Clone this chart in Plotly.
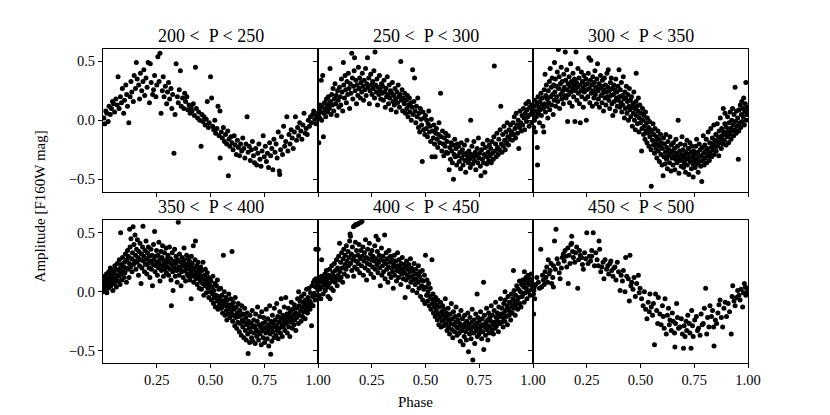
"""
Phase-folded light curves of the variables, split into six period bins.
Each panel shows F160W amplitude against pulsation phase.
"""

import plotly.graph_objects as go
from plotly.subplots import make_subplots

# panel titles (period bins, days)
bins = ["200 <\u00a0 P < 250", "250 <\u00a0 P < 300", "300 <\u00a0 P < 350",
        "350 <\u00a0 P < 400", "400 <\u00a0 P < 450", "450 <\u00a0 P < 500"]

# (phase, amplitude), one list per period bin
p200_250 = [
    (.004,.02),(.009,-.03),(.013,.08),(.018,.06),(.024,-.01),(.028,.12),(.034,.05),(.039,.1),(.044,.16),(.049,.14),
    (.054,.07),(.06,.18),(.066,.13),(.07,.37),(.075,.1),(.081,.2),(.086,.15),(.09,.27),(.096,.06),(.1,.17),
    (.106,.3),(.11,.22),(.114,.12),(.12,-.02),(.126,.2),(.13,.33),(.134,.24),(.141,.16),(.145,.38),(.151,.27),
    (.155,.49),(.159,.35),(.166,.3),(.17,.18),(.174,.4),(.18,.25),(.186,.33),(.19,.43),(.194,.21),(.2,.36),
    (.205,.28),(.21,.49),(.216,.15),(.22,.48),(.224,.32),(.231,.22),(.235,.26),(.24,.38),(.246,.2),(.25,.3),
    (.255,.54),(.261,.33),(.265,.57),(.27,.06),(.276,.25),(.28,.37),(.284,.2),(.29,.29),(.296,.14),(.3,.24),
    (.305,.32),(.31,.18),(.316,.27),(.32,.1),(.324,.22),(.33,-.28),(.335,.05),(.34,.48),(.346,.2),(.35,.15),
    (.355,.26),(.36,.42),(.364,.12),(.37,.19),(.376,.1),(.38,.23),(.384,.16),(.39,.2),(.394,.09),(.4,.13),
    (.405,.06),(.41,.11),(.414,.08),(.42,.14),(.425,.04),(.43,.45),(.434,.1),(.44,.02),(.445,.07),(.45,.0),
    (.456,-.22),(.46,.05),(.464,-.01),(.47,.03),(.475,-.04),(.48,.01),(.485,.16),(.49,-.06),(.494,-.02),(.5,.37),
    (.505,.19),(.51,-.05),(.515,-.08),(.52,.0),(.524,-.11),(.53,-.07),(.535,.12),(.54,-.13),(.544,.08),(.545,-.32),
    (.55,-.1),(.555,-.15),(.56,-.06),(.565,-.18),(.57,-.12),(.575,-.2),(.58,-.09),(.583,-.47),(.586,-.16),(.59,-.22),
    (.595,-.14),(.6,-.19),(.605,-.25),(.61,-.13),(.615,-.21),(.62,-.29),(.625,-.17),(.63,-.23),(.635,-.3),(.64,-.2),
    (.645,-.26),(.65,-.15),(.655,-.24),(.66,-.32),(.665,-.2),(.67,.03),(.675,-.27),(.68,-.22),(.685,-.34),(.69,-.25),
    (.695,-.18),(.7,-.3),(.705,-.36),(.71,-.24),(.715,-.38),(.72,-.28),(.725,-.2),(.73,-.33),(.735,-.39),(.74,-.26),
    (.745,-.13),(.75,-.31),(.755,-.22),(.76,-.35),(.765,-.28),(.77,-.4),(.775,-.19),(.78,-.3),(.785,-.24),(.79,-.42),
    (.795,-.16),(.8,-.27),(.805,-.2),(.81,-.32),(.815,-.1),(.82,-.43),(.822,-.46),(.826,-.25),(.83,-.14),(.835,-.29),
    (.84,-.05),(.845,-.22),(.85,-.18),(.855,.03),(.86,-.26),(.865,-.12),(.87,-.2),(.875,-.08),(.88,-.15),(.885,-.24),
    (.89,-.1),(.895,.03),(.9,-.17),(.905,-.06),(.91,-.13),(.915,-.02),(.92,-.09),(.925,-.16),(.93,-.04),(.935,.06),
    (.94,-.11),(.945,-.07),(.95,-.12),(.955,.0),(.96,-.05),(.965,.03),(.97,-.02),(.975,.05),(.98,.08),(.985,.01),
    (.99,-.03),(.995,.04),(.999,.06),
]

p250_300 = [
    (.002,.05),(.004,-.19),(.006,.1),(.008,.02),(.01,.13),(.012,.07),(.015,.34),(.017,.0),(.02,.11),(.022,.38),
    (.025,-.14),(.027,.06),(.03,.15),(.033,.09),(.036,.03),(.039,.18),(.042,.12),(.045,.07),(.048,.2),(.05,.14),
    (.053,.1),(.056,.44),(.058,.16),(.061,.05),(.064,.22),(.067,.13),(.07,.27),(.073,.08),(.076,.18),(.079,.31),
    (.082,.14),(.085,.21),(.088,.04),(.091,.25),(.094,.17),(.097,.11),(.1,.28),(.103,.2),(.106,.13),(.109,.35),
    (.112,.24),(.115,.08),(.118,.49),(.12,.3),(.123,.19),(.126,.38),(.129,.26),(.132,.15),(.135,.33),(.138,.22),
    (.141,.4),(.144,.27),(.147,.1),(.15,.31),(.153,.23),(.157,.57),(.16,.36),(.162,.18),(.165,.29),(.168,.42),
    (.17,.53),(.173,.25),(.176,.34),(.179,.14),(.182,.3),(.185,.21),(.188,.45),(.191,.27),(.194,.36),(.197,.19),
    (.2,.32),(.203,.24),(.206,.4),(.209,.29),(.212,.17),(.215,.34),(.218,.26),(.221,.44),(.224,.21),(.227,.31),
    (.23,.53),(.233,.28),(.236,.36),(.239,.14),(.242,.25),(.245,.39),(.248,.3),(.251,.22),(.254,.33),(.257,.27),
    (.26,.42),(.263,.19),(.265,.58),(.268,.3),(.271,.24),(.274,.35),(.277,.13),(.28,.28),(.283,.22),(.286,.38),
    (.289,.26),(.292,.18),(.295,.31),(.298,.23),(.301,.29),(.304,.17),(.307,.34),(.31,.24),(.313,.11),(.316,.27),
    (.319,.2),(.322,.37),(.325,.22),(.328,.14),(.331,.3),(.334,.19),(.337,.25),(.34,.09),(.343,.23),(.346,.32),
    (.349,.16),(.352,.21),(.355,.13),(.358,.27),(.361,.18),(.364,.07),(.367,.24),(.37,.15),(.373,.3),(.376,.2),
    (.379,.11),(.382,.22),(.385,.5),(.388,.17),(.391,.26),(.394,.08),(.397,.19),(.401,.14),(.404,.23),(.407,.06),
    (.41,.17),(.413,.1),(.416,.21),(.419,.03),(.422,.13),(.425,.19),(.428,.07),(.431,.15),(.434,.0),(.437,.11),
    (.44,.43),(.443,.05),(.446,.16),(.449,.36),(.452,.08),(.455,-.02),(.458,.12),(.461,.03),(.464,.19),(.467,-.06),
    (.47,.06),(.473,-.1),(.476,.1),(.479,.01),(.482,-.04),(.485,-.35),(.488,.07),(.491,-.08),(.494,.02),(.497,-.12),
    (.5,.04),(.503,-.07),(.506,.0),(.509,-.14),(.512,-.03),(.515,.08),(.518,-.1),(.521,-.05),(.524,-.18),(.527,.01),
    (.53,-.31),(.533,-.09),(.536,-.15),(.539,-.04),(.542,-.2),(.545,-.31),(.548,-.11),(.551,-.07),(.554,-.16),(.557,-.23),
    (.56,-.12),(.563,-.02),(.566,-.19),(.57,.23),(.573,-.14),(.576,-.26),(.579,-.09),(.582,-.2),(.585,-.3),(.588,-.15),
    (.591,-.22),(.594,-.11),(.597,-.27),(.6,-.18),(.603,-.28),(.606,-.13),(.61,-.42),(.613,-.23),(.616,-.33),(.619,-.19),
    (.622,-.26),(.625,-.36),(.628,-.21),(.63,-.5),(.633,-.29),(.636,-.16),(.639,-.31),(.642,-.24),(.645,-.38),(.648,-.2),
    (.651,-.3),(.654,-.22),(.657,-.35),(.66,-.27),(.663,-.41),(.666,-.19),(.669,-.32),(.672,-.25),(.675,-.38),(.678,-.29),
    (.681,-.21),(.684,-.34),(.687,-.44),(.69,-.28),(.693,-.17),(.696,-.31),(.699,-.36),(.702,-.26),(.705,-.33),(.708,-.4),
    (.71,.0),(.713,-.29),(.716,-.22),(.719,-.37),(.722,-.31),(.725,-.18),(.728,-.34),(.731,-.27),(.734,-.42),(.737,-.3),
    (.74,-.24),(.743,-.36),(.746,-.15),(.749,-.32),(.752,-.28),(.755,-.39),(.758,-.47),(.761,-.25),(.764,-.33),(.767,-.2),
    (.77,-.36),(.773,-.29),(.776,-.44),(.779,-.23),(.782,-.31),(.785,-.37),(.788,-.17),(.791,-.27),(.794,-.34),(.797,-.21),
    (.8,-.3),(.803,-.24),(.806,-.36),(.809,-.18),(.812,-.28),(.815,-.33),(.818,-.14),(.82,.46),(.823,-.26),(.826,-.2),
    (.829,-.31),(.832,-.11),(.835,-.23),(.838,-.29),(.841,-.16),(.844,-.25),(.847,-.08),(.85,.12),(.853,-.2),(.856,-.27),
    (.859,-.12),(.862,-.22),(.865,-.05),(.868,-.17),(.871,-.25),(.874,-.1),(.877,-.19),(.88,-.02),(.883,-.14),(.886,-.21),
    (.889,-.08),(.892,-.16),(.895,-.04),(.898,-.12),(.901,-.1),(.904,-.17),(.907,-.02),(.91,-.12),(.913,.03),(.916,-.07),
    (.919,-.15),(.922,.06),(.925,-.04),(.928,-.11),(.931,.0),(.934,-.24),(.937,-.06),(.94,.08),(.943,-.02),(.946,-.09),
    (.949,.04),(.952,-.04),(.955,.1),(.958,.02),(.961,-.08),(.964,.06),(.967,.14),(.97,-.01),(.973,.09),(.976,.03),
    (.979,.16),(.982,-.05),(.985,.11),(.988,.05),(.991,.13),(.994,-.02),(.997,.08),(.999,.12),
]

p300_350 = [
    (.001,.05),(.003,-.06),(.005,.12),(.007,.0),(.009,.17),(.011,-.1),(.013,.08),(.016,.03),(.018,.14),(.02,-.23),
    (.021,-.38),(.023,.2),(.025,.06),(.027,.11),(.03,-.02),(.032,.16),(.034,.09),(.037,.23),(.039,.04),(.041,.13),
    (.044,.19),(.046,-.05),(.048,.1),(.05,-.1),(.052,.26),(.054,.14),(.056,.39),(.058,.07),(.06,.21),(.062,.3),
    (.065,.12),(.067,.18),(.069,.02),(.071,.25),(.073,.15),(.076,.33),(.078,.09),(.08,.44),(.082,.2),(.085,.28),
    (.087,.13),(.089,.36),(.091,.22),(.094,.05),(.096,.3),(.098,.17),(.1,.49),(.102,.24),(.104,.35),(.106,.12),
    (.108,.29),(.11,.2),(.113,.41),(.115,.16),(.118,.6),(.12,.27),(.122,.37),(.124,.1),(.127,.31),(.129,.22),
    (.131,.45),(.134,.18),(.136,.33),(.138,.25),(.141,.14),(.143,.39),(.145,.28),(.148,.21),(.15,.58),(.152,.34),
    (.154,.19),(.157,.43),(.159,.26),(.161,-.01),(.163,.31),(.166,.22),(.168,.37),(.17,.15),(.172,.29),(.175,.48),
    (.177,.24),(.179,.33),(.182,.12),(.184,.27),(.186,.4),(.189,.2),(.191,.3),(.193,.35),(.195,-.01),(.197,.25),
    (.2,.58),(.202,.32),(.204,.17),(.207,.28),(.209,.44),(.211,.23),(.214,.36),(.216,.14),(.218,.3),(.22,-.02),
    (.223,.25),(.225,.41),(.227,.2),(.23,.33),(.232,.27),(.234,.11),(.237,.38),(.239,.24),(.241,.3),(.244,.18),
    (.246,.35),(.248,.0),(.25,.26),(.253,.31),(.255,.2),(.257,.4),(.26,.53),(.262,.27),(.264,.15),(.267,.34),
    (.269,.51),(.271,.23),(.274,.3),(.276,.12),(.278,.37),(.281,.25),(.283,.19),(.285,.32),(.288,.42),(.29,.22),
    (.292,.28),(.295,.14),(.297,.35),(.3,.48),(.302,.25),(.304,.18),(.307,.31),(.309,.11),(.311,.27),(.314,.38),
    (.316,.21),(.318,.29),(.321,.15),(.323,.34),(.325,.23),(.328,.08),(.33,.26),(.332,.36),(.335,.19),(.337,.3),
    (.339,.13),(.342,.24),(.344,.4),(.346,.2),(.349,.28),(.35,.43),(.353,.17),(.355,.25),(.357,.1),(.36,.32),
    (.362,.21),(.364,.36),(.367,.14),(.369,.27),(.371,.04),(.374,.22),(.376,.3),(.378,.16),(.381,.26),(.383,.08),
    (.385,.35),(.388,.19),(.39,.24),(.392,.12),(.395,.29),(.397,.17),(.4,.43),(.402,.2),(.404,.11),(.406,.26),
    (.409,.15),(.411,.32),(.413,.07),(.416,.21),(.418,.13),(.42,.37),(.423,.18),(.425,.02),(.427,.24),(.43,.1),
    (.432,.19),(.434,.29),(.437,.06),(.439,.16),(.441,.22),(.444,.0),(.446,.12),(.448,.27),(.451,.09),(.453,.17),
    (.455,.03),(.458,.2),(.46,.11),(.462,-.05),(.465,.14),(.467,.06),(.469,.24),(.472,.0),(.474,.1),(.476,-.08),
    (.479,.16),(.48,.4),(.481,.04),(.483,.12),(.486,-.03),(.488,.08),(.49,.19),(.493,-.1),(.495,.02),(.497,.13),
    (.5,-.02),(.502,.06),(.505,-.26),(.507,-.07),(.509,.1),(.511,.0),(.514,-.12),(.516,.04),(.518,-.05),(.521,-.16),
    (.523,.07),(.525,-.09),(.528,-.02),(.53,-.19),(.532,.02),(.535,-.11),(.537,-.06),(.539,-.22),(.542,-.01),(.544,-.14),
    (.546,-.08),(.549,-.25),(.55,-.56),(.553,-.1),(.555,-.17),(.558,-.03),(.56,-.21),(.562,-.12),(.565,-.28),(.567,-.07),
    (.569,-.18),(.572,-.24),(.574,-.14),(.576,-.32),(.579,-.2),(.581,-.09),(.583,-.26),(.586,-.16),(.588,-.35),(.59,-.22),
    (.593,-.12),(.595,-.29),(.597,-.19),(.6,-.38),(.602,-.24),(.605,-.47),(.607,-.15),(.609,-.31),(.611,-.2),(.614,-.37),
    (.616,-.27),(.618,-.12),(.621,-.33),(.623,-.23),(.625,-.41),(.628,-.18),(.63,-.3),(.632,-.25),(.635,-.36),(.637,-.14),
    (.639,-.28),(.642,-.43),(.644,-.21),(.646,-.32),(.649,-.26),(.651,-.38),(.653,-.19),(.656,-.3),(.658,-.24),(.66,-.42),
    (.663,-.33),(.665,-.16),(.667,-.28),(.67,-.36),(.672,-.22),(.675,.0),(.677,-.31),(.679,-.45),(.682,-.26),(.684,-.34),
    (.686,-.2),(.689,-.39),(.691,-.29),(.693,-.14),(.696,-.33),(.698,-.25),(.7,-.4),(.702,-.3),(.704,-.36),(.707,-.21),
    (.709,-.44),(.711,-.27),(.714,-.33),(.716,-.17),(.718,-.38),(.721,-.29),(.723,-.24),(.725,-.46),(.728,-.32),(.73,-.19),
    (.732,-.35),(.735,-.27),(.737,-.41),(.739,-.22),(.742,-.31),(.744,-.37),(.745,-.48),(.747,-.26),(.75,-.34),(.752,-.29),
    (.754,-.4),(.757,-.22),(.759,-.33),(.761,-.16),(.764,-.37),(.766,-.27),(.768,-.44),(.771,-.31),(.773,-.2),(.775,-.35),
    (.778,-.25),(.78,-.39),(.782,-.3),(.785,-.52),(.787,-.23),(.789,-.34),(.792,-.13),(.794,-.28),(.796,-.38),(.799,-.21),
    (.801,-.32),(.803,-.26),(.806,-.16),(.808,-.36),(.81,-.24),(.813,-.3),(.815,-.1),(.817,-.27),(.82,-.34),(.822,-.19),
    (.824,-.28),(.827,-.07),(.829,-.23),(.831,-.31),(.834,-.15),(.836,-.25),(.838,-.2),(.841,-.04),(.843,-.29),(.845,-.17),
    (.848,-.22),(.85,-.12),(.852,-.26),(.855,-.18),(.857,-.03),(.859,-.22),(.862,-.14),(.864,-.3),(.866,-.09),(.869,-.19),
    (.871,.02),(.873,-.16),(.876,-.24),(.878,-.07),(.88,-.13),(.883,-.2),(.885,.1),(.887,-.1),(.89,-.17),(.892,-.03),
    (.893,.06),(.896,-.12),(.898,-.21),(.9,-.06),(.903,-.14),(.905,.03),(.907,-.1),(.91,-.19),(.912,-.02),(.914,-.12),
    (.917,.07),(.919,-.07),(.921,-.16),(.924,.0),(.926,-.09),(.928,.1),(.931,-.04),(.933,-.13),(.935,.05),(.938,-.08),
    (.94,.28),(.942,-.01),(.945,-.11),(.947,.08),(.95,-.05),(.952,.02),(.955,-.33),(.957,-.09),(.959,.09),(.962,-.02),
    (.964,.13),(.966,-.06),(.969,.05),(.971,.16),(.973,-.01),(.976,.1),(.978,.03),(.98,.19),(.983,-.04),(.985,.07),
    (.987,.14),(.99,.32),(.992,.0),(.994,.11),(.997,.05),(.999,.09),
]

p350_400 = [
    (.001,.0),(.003,.08),(.005,.04),(.007,.13),(.009,.02),(.011,.1),(.014,.06),(.016,.15),(.018,-.01),(.02,.09),
    (.023,.12),(.025,.03),(.027,.17),(.03,.07),(.032,.11),(.034,.2),(.037,.05),(.039,.14),(.041,.09),(.044,.18),
    (.046,.01),(.048,.12),(.051,.16),(.053,.07),(.055,.22),(.058,.11),(.06,.19),(.062,.04),(.065,.14),(.067,.24),
    (.069,.09),(.072,.18),(.074,.13),(.076,.27),(.079,.06),(.081,.2),(.082,.5),(.084,.15),(.086,.23),(.088,.1),
    (.091,.29),(.093,.17),(.095,.21),(.098,.12),(.1,.25),(.102,.16),(.104,.32),(.107,.2),(.109,.08),(.111,.27),
    (.114,.35),(.116,.19),(.118,.3),(.121,.12),(.123,.24),(.124,.53),(.126,.38),(.128,.21),(.13,.45),(.133,.28),
    (.135,.17),(.137,.33),(.14,.55),(.142,.23),(.144,.4),(.147,.26),(.149,.48),(.151,.31),(.153,.19),(.156,.36),
    (.158,.25),(.16,.44),(.163,.29),(.165,.14),(.167,.34),(.17,.22),(.172,.41),(.174,.27),(.177,.07),(.179,.32),
    (.181,.2),(.184,.38),(.186,.556),(.188,.26),(.19,.3),(.193,.17),(.195,.35),(.197,.23),(.2,.43),(.202,.28),
    (.204,.15),(.207,.33),(.209,.24),(.211,.38),(.214,.2),(.216,.3),(.218,.12),(.221,.26),(.223,.36),(.225,.19),
    (.228,.31),(.23,.05),(.232,.23),(.235,.4),(.237,.27),(.24,.51),(.242,.17),(.244,.3),(.246,.22),(.249,.35),
    (.251,.25),(.253,.14),(.256,.31),(.258,.2),(.26,.42),(.263,.27),(.265,.09),(.267,.23),(.27,.34),(.272,.18),
    (.274,.29),(.277,.39),(.279,.22),(.281,.13),(.284,.26),(.286,.33),(.288,.19),(.291,.24),(.293,.37),(.295,.16),
    (.298,.28),(.3,.21),(.302,.31),(.305,.14),(.307,.25),(.309,.38),(.312,.19),(.314,.28),(.316,.1),(.318,-.12),
    (.32,.23),(.322,.33),(.324,.17),(.326,.01),(.329,.26),(.331,.2),(.333,.36),(.336,.13),(.338,.24),(.34,.3),
    (.343,.18),(.345,.08),(.347,.27),(.35,.59),(.352,.21),(.354,.14),(.356,.32),(.359,.19),(.361,.25),(.363,.05),
    (.366,.17),(.368,.29),(.37,.22),(.373,.12),(.375,.27),(.377,.37),(.38,.18),(.382,.24),(.384,.09),(.387,.2),
    (.389,.31),(.391,.15),(.394,.23),(.396,.28),(.398,.13),(.4,.19),(.402,.26),(.404,.1),(.406,.21),(.408,.16),
    (.41,-.06),(.411,.3),(.413,.13),(.415,.24),(.417,.18),(.42,.39),(.422,.08),(.424,.2),(.426,.14),(.428,.27),
    (.43,.43),(.432,.11),(.434,.17),(.436,.22),(.438,.06),(.44,.15),(.442,.25),(.444,.12),(.446,.19),(.448,.03),
    (.45,.16),(.452,.09),(.454,.21),(.456,.13),(.458,.02),(.461,.18),(.463,.07),(.465,.25),(.467,.11),(.469,-.03),
    (.472,.14),(.474,.05),(.476,.19),(.478,.1),(.481,-.01),(.483,.08),(.485,.16),(.488,.03),(.49,.12),(.492,-.05),
    (.495,.06),(.497,.1),(.5,.0),(.502,.09),(.504,-.07),(.507,.04),(.509,-.02),(.511,.13),(.514,-.1),(.516,.01),
    (.518,-.05),(.521,.07),(.523,-.13),(.525,-.03),(.528,.05),(.53,-.08),(.532,.1),(.535,-.15),(.537,-.04),(.539,.02),
    (.542,-.11),(.544,-.06),(.547,.03),(.549,-.09),(.551,-.14),(.553,-.03),(.556,-.18),(.558,-.08),(.56,.31),(.562,-.12),
    (.564,.0),(.567,-.2),(.569,-.1),(.571,-.05),(.574,-.16),(.576,-.24),(.578,-.07),(.58,-.13),(.583,-.19),(.585,-.02),
    (.587,-.11),(.59,-.22),(.592,-.15),(.594,-.06),(.597,-.18),(.6,.34),(.601,-.12),(.603,-.25),(.606,-.09),(.608,-.2),
    (.61,-.15),(.613,-.29),(.615,-.05),(.617,-.22),(.62,-.13),(.622,-.31),(.624,-.18),(.627,-.26),(.629,-.1),(.631,-.21),
    (.634,-.34),(.636,-.16),(.638,-.27),(.641,-.2),(.643,-.37),(.645,-.12),(.648,-.24),(.65,-.3),(.652,-.19),(.655,-.39),
    (.657,-.26),(.659,-.14),(.662,-.33),(.664,-.22),(.666,-.41),(.669,-.28),(.671,-.18),(.673,-.36),(.675,-.525),(.677,-.25),
    (.68,-.31),(.682,-.43),(.684,-.2),(.687,-.34),(.689,-.27),(.691,-.39),(.694,-.16),(.696,-.3),(.698,-.42),(.701,-.24),
    (.703,-.35),(.705,-.29),(.708,-.44),(.71,-.19),(.712,-.32),(.715,-.38),(.717,-.25),(.719,-.13),(.722,-.34),(.724,-.41),
    (.726,-.28),(.729,-.21),(.731,-.36),(.733,-.3),(.736,-.45),(.738,-.17),(.74,-.33),(.743,-.27),(.745,-.39),(.747,-.22),
    (.75,-.31),(.752,-.43),(.754,-.26),(.757,-.35),(.759,-.15),(.761,-.3),(.764,-.4),(.766,-.23),(.768,-.33),(.771,-.46),
    (.773,-.28),(.775,-.12),(.778,-.36),(.78,-.53),(.781,-.25),(.783,-.31),(.785,-.42),(.788,-.2),(.79,-.34),(.792,-.27),
    (.795,-.39),(.797,-.14),(.799,-.3),(.801,-.24),(.804,-.37),(.806,-.29),(.808,-.1),(.811,-.33),(.813,-.21),(.815,-.4),
    (.818,-.26),(.82,-.31),(.822,-.17),(.825,-.35),(.827,-.23),(.829,-.06),(.832,-.28),(.834,-.38),(.836,-.2),(.839,-.3),
    (.841,-.25),(.843,-.13),(.846,-.33),(.848,-.22),(.85,-.05),(.853,-.27),(.855,-.19),(.857,-.35),(.86,-.24),(.862,-.14),
    (.864,-.3),(.867,-.21),(.869,-.38),(.871,-.17),(.874,-.26),(.876,-.09),(.878,-.23),(.881,-.31),(.883,-.15),(.885,-.2),
    (.888,-.28),(.89,-.11),(.892,-.24),(.895,-.18),(.897,-.33),(.9,-.14),(.902,-.22),(.905,-.06),(.907,-.19),(.909,-.27),
    (.91,.0),(.912,-.12),(.914,-.2),(.916,-.08),(.919,-.16),(.921,-.25),(.923,-.04),(.926,-.13),(.928,-.21),(.93,-.09),
    (.933,-.17),(.935,-.02),(.937,-.11),(.94,-.23),(.942,-.07),(.944,-.15),(.947,.02),(.949,-.1),(.951,-.18),(.954,-.05),
    (.956,-.12),(.958,.03),(.961,-.08),(.963,-.15),(.965,-.01),(.968,-.1),(.97,-.29),(.972,.05),(.975,-.04),(.977,-.12),
    (.979,.08),(.982,-.02),(.984,.1),(.986,-.07),(.989,.04),(.99,.36),(.991,.11),(.993,-.03),(.996,.07),(.999,.02),
]

p400_450 = [
    (.001,.36),(.002,.05),(.004,-.03),(.006,.1),(.009,.02),(.011,.08),(.013,-.06),(.016,.13),(.017,.27),(.019,.04),
    (.022,.09),(.024,-.02),(.027,.12),(.029,.06),(.032,.15),(.034,.01),(.037,.08),(.039,.18),(.042,.04),(.044,.11),
    (.047,-.04),(.049,.14),(.052,.07),(.054,.19),(.056,-.06),(.059,.12),(.061,.03),(.064,.22),(.066,.09),(.069,.16),
    (.071,.01),(.074,.13),(.076,.24),(.079,.08),(.081,.18),(.084,.11),(.086,.27),(.089,.05),(.091,.2),(.094,.14),
    (.096,.3),(.099,.1),(.1,.41),(.102,.17),(.105,.25),(.107,.12),(.11,.33),(.112,.2),(.115,.08),(.117,.28),
    (.12,.36),(.122,.15),(.125,.23),(.127,.31),(.13,.19),(.132,.39),(.135,.26),(.137,.13),(.14,.34),(.142,.22),
    (.145,.29),(.147,.43),(.149,.49),(.151,.47),(.152,.24),(.155,.32),(.157,.18),(.16,.38),(.162,.27),(.165,.55),
    (.166,.13),(.168,.3),(.17,.56),(.171,.21),(.174,.42),(.175,.57),(.176,.26),(.179,.35),(.18,.57),(.182,.19),
    (.185,.575),(.186,.31),(.188,.24),(.19,.58),(.191,.4),(.194,.16),(.196,.28),(.199,.35),(.2,.59),(.202,.22),
    (.205,.6),(.206,.3),(.209,.38),(.211,.14),(.214,.26),(.216,.33),(.219,.2),(.221,.44),(.224,.29),(.226,.1),
    (.229,.24),(.231,.36),(.234,.18),(.236,.28),(.239,.41),(.241,.23),(.244,.32),(.246,.15),(.249,.27),(.251,.35),
    (.254,.21),(.256,.3),(.259,.12),(.261,.26),(.264,.39),(.266,.19),(.27,.47),(.271,.28),(.274,.23),(.276,.34),
    (.279,.16),(.28,.44),(.282,.25),(.285,.31),(.287,.2),(.29,.05),(.292,.27),(.295,.37),(.297,.14),(.3,.22),
    (.302,.3),(.305,.17),(.307,.26),(.31,.48),(.312,.11),(.315,.24),(.317,.33),(.32,.19),(.322,.28),(.325,.08),
    (.327,.21),(.33,.35),(.332,.15),(.335,.25),(.337,.3),(.34,.12),(.342,.2),(.345,.27),(.347,.17),(.35,.03),
    (.352,.23),(.355,.31),(.357,.14),(.36,.21),(.362,.26),(.365,.09),(.367,.18),(.37,.33),(.372,.22),(.375,.12),
    (.377,.27),(.38,.17),(.382,.2),(.385,.06),(.387,.24),(.39,.15),(.392,.29),(.395,.19),(.397,.11),(.4,.23),
    (.402,.16),(.405,-.05),(.407,.21),(.41,.1),(.412,.26),(.415,.14),(.417,.19),(.42,.04),(.422,.23),(.425,.12),
    (.427,.17),(.43,.28),(.432,.08),(.435,.2),(.437,.13),(.44,.01),(.442,.18),(.445,.1),(.447,.24),(.45,.15),
    (.452,.06),(.455,.19),(.457,.11),(.46,-.01),(.462,.15),(.465,.08),(.467,.22),(.47,.03),(.472,.13),(.475,.17),
    (.477,-.04),(.48,.1),(.482,.05),(.485,.18),(.487,-.07),(.49,.09),(.492,.02),(.495,.14),(.497,-.1),(.5,.31),
    (.502,.04),(.505,-.03),(.507,.1),(.51,-.08),(.512,.0),(.515,.07),(.517,-.12),(.52,-.04),(.522,.03),(.525,-.15),
    (.527,-.06),(.53,.27),(.532,-.1),(.535,-.02),(.537,-.18),(.54,-.08),(.542,-.13),(.545,-.21),(.547,-.05),(.55,-.16),
    (.552,-.11),(.555,-.24),(.557,-.07),(.56,-.19),(.562,-.28),(.565,-.13),(.567,-.22),(.57,-.09),(.572,-.3),(.575,-.17),
    (.577,-.25),(.58,-.12),(.582,-.2),(.585,-.29),(.587,-.15),(.59,-.23),(.592,-.06),(.595,-.27),(.597,-.18),(.6,-.33),
    (.602,-.21),(.605,-.14),(.607,-.3),(.61,-.24),(.612,-.36),(.615,-.19),(.617,-.27),(.62,-.1),(.622,-.32),(.625,-.23),
    (.627,-.39),(.63,-.17),(.632,-.28),(.635,-.34),(.637,-.21),(.64,-.26),(.642,-.13),(.645,-.3),(.647,-.37),(.65,-.24),
    (.652,-.31),(.655,-.2),(.657,-.35),(.66,-.27),(.662,-.42),(.665,-.16),(.667,-.29),(.67,-.33),(.672,-.23),(.675,-.45),
    (.677,-.3),(.68,-.38),(.682,-.2),(.685,-.27),(.687,-.34),(.69,-.41),(.692,-.25),(.695,-.31),(.697,-.18),(.7,-.51),
    (.702,-.28),(.705,-.36),(.707,-.22),(.71,-.32),(.712,-.4),(.715,-.26),(.717,-.15),(.72,-.58),(.721,-.3),(.724,-.35),
    (.726,-.24),(.729,-.44),(.731,-.29),(.734,-.19),(.736,-.33),(.739,-.27),(.74,-.02),(.741,-.38),(.744,-.22),(.746,-.31),
    (.749,-.36),(.751,-.25),(.754,-.32),(.756,-.17),(.759,-.29),(.761,-.4),(.764,-.23),(.766,-.34),(.769,-.28),(.77,.08),
    (.771,-.49),(.774,-.2),(.776,-.3),(.779,-.37),(.781,-.26),(.784,-.14),(.786,-.32),(.789,-.24),(.79,-.41),(.791,-.29),
    (.794,-.18),(.796,-.35),(.799,-.22),(.801,-.3),(.804,-.25),(.806,-.12),(.809,-.33),(.811,-.2),(.814,-.28),(.816,-.36),
    (.819,-.16),(.821,-.26),(.824,-.31),(.826,-.09),(.829,-.22),(.831,-.29),(.834,-.18),(.836,-.25),(.839,-.34),(.841,-.13),
    (.844,-.21),(.846,-.27),(.849,-.06),(.851,-.19),(.854,-.26),(.856,-.14),(.859,-.22),(.861,-.3),(.864,-.1),(.866,-.18),
    (.869,-.25),(.87,.0),(.871,-.07),(.874,-.16),(.876,-.21),(.879,-.12),(.881,-.28),(.884,-.04),(.886,-.15),(.889,-.2),
    (.891,-.09),(.894,-.17),(.896,-.24),(.899,-.02),(.901,-.12),(.904,-.18),(.906,-.06),(.909,.18),(.91,-.14),(.912,.01),
    (.914,-.09),(.917,-.2),(.919,-.03),(.922,-.11),(.924,.05),(.927,-.07),(.929,-.15),(.932,.02),(.934,-.05),(.937,.09),
    (.939,-.1),(.942,.0),(.944,-.13),(.947,.06),(.949,-.04),(.952,.1),(.954,-.02),(.957,.04),(.959,-.09),(.96,.17),
    (.962,.07),(.964,-.01),(.967,.12),(.969,.03),(.972,-.06),(.974,.09),(.977,.14),(.979,.0),(.982,.06),(.984,.11),
    (.987,-.03),(.989,.08),(.992,.15),(.994,.02),(.997,.1),(.999,.05),
]

p450_500 = [
    (.002,-.02),(.004,.01),(.003,-.19),(.006,.04),(.008,-.06),(.012,.06),(.018,.12),(.025,.08),(.03,.03),(.036,.36),
    (.04,.04),(.044,.14),(.048,.1),(.052,.06),(.056,.17),(.06,.12),(.064,.21),(.068,.08),(.071,.27),(.075,.15),
    (.08,.18),(.084,.24),(.087,.07),(.092,.12),(.095,.04),(.095,.22),(.1,.43),(.104,.19),(.107,.53),(.112,.28),
    (.118,.24),(.122,.16),(.126,.11),(.132,.2),(.136,.29),(.141,.32),(.145,.26),(.149,.35),(.153,.3),(.157,.21),
    (.162,.37),(.164,.07),(.168,.31),(.172,.24),(.176,.4),(.18,.47),(.18,.41),(.184,.34),(.188,.29),(.194,.25),
    (.198,.33),(.203,.38),(.208,.03),(.212,.27),(.216,.35),(.22,.31),(.226,.29),(.23,.23),(.234,.19),(.24,.33),
    (.245,.28),(.25,.5),(.256,.24),(.262,.3),(.268,.26),(.273,.3),(.273,.35),(.28,.5),(.286,.22),(.292,.33),
    (.298,.27),(.304,.22),(.307,.43),(.31,.36),(.315,.17),(.32,.21),(.326,.25),(.33,.11),(.335,.27),(.342,.19),
    (.348,.22),(.352,.15),(.358,.24),(.362,.26),(.366,.18),(.372,.13),(.376,.2),(.381,.21),(.386,.1),(.392,.25),
    (.398,.17),(.405,.01),(.41,.14),(.416,.09),(.42,.18),(.428,.0),(.431,.29),(.436,.13),(.443,.11),(.448,-.08),
    (.451,.31),(.455,.05),(.459,.08),(.465,.02),(.47,.12),(.476,-.04),(.482,.07),(.49,.14),(.494,-.01),(.498,.03),
    (.505,-.06),(.512,-.12),(.518,.0),(.524,-.15),(.53,-.23),(.536,-.09),(.541,-.17),(.544,-.02),(.55,-.13),(.556,-.2),
    (.56,-.1),(.565,-.45),(.57,-.02),(.575,-.16),(.58,-.27),(.583,-.05),(.59,-.19),(.596,-.28),(.602,-.12),(.606,-.21),
    (.61,-.31),(.614,-.06),(.62,-.36),(.625,-.2),(.63,-.14),(.634,-.28),(.637,-.24),(.643,-.33),(.648,-.18),(.652,-.25),
    (.658,-.35),(.66,-.47),(.663,-.27),(.668,-.1),(.672,-.22),(.677,-.31),(.684,-.3),(.69,-.23),(.695,-.36),(.7,-.48),
    (.703,-.29),(.707,-.38),(.712,-.25),(.715,-.33),(.72,-.2),(.727,-.27),(.73,-.35),(.735,-.48),(.738,-.16),(.742,-.29),
    (.745,-.38),(.752,-.24),(.76,-.21),(.765,-.33),(.77,-.31),(.777,-.37),(.782,-.19),(.787,-.28),(.792,-.27),(.797,-.14),
    (.803,.03),(.808,-.36),(.812,-.22),(.818,-.3),(.823,-.12),(.83,-.21),(.835,-.16),(.84,-.3),(.842,-.46),(.848,-.24),
    (.854,-.27),(.86,-.18),(.865,-.11),(.87,-.07),(.876,-.22),(.882,-.3),(.888,-.14),(.894,-.09),(.9,-.21),(.908,-.1),
    (.914,-.17),(.922,-.36),(.926,-.04),(.929,.05),(.935,-.08),(.94,-.12),(.947,-.05),(.952,.01),(.958,-.03),(.963,-.07),
    (.968,.02),(.975,-.13),(.979,-.01),(.983,.07),(.988,.04),(.99,-.03),(.994,.03),(.998,.0),
]

# colours / sizing
DOT = "black"
AXIS_FONT = "Liberation Serif, Times New Roman, serif"

fig = make_subplots(rows=2, cols=3, horizontal_spacing=0, vertical_spacing=0.0915,
                    subplot_titles=bins)

panels = [p200_250, p250_300, p300_350, p350_400, p400_450, p450_500]

for i, pts in enumerate(panels):
    row = i // 3 + 1
    col = i % 3 + 1
    # unzip the (phase, amplitude) pairs
    phase = [p[0] for p in pts]
    amp = [p[1] for p in pts]
    fig.add_trace(go.Scatter(
        x=phase,
        y=amp,
        mode="markers",
        marker=dict(color=DOT, size=5, line=dict(width=0)),
        showlegend=False,
    ), row=row, col=col)

    fig.update_xaxes(
        range=[0, 1],
        tickvals=[0.25, 0.5, 0.75, 1.0],
        tickformat=".2f",
        showticklabels=(row == 2),   # only the bottom row gets phase labels
        row=row, col=col,
    )
    fig.update_yaxes(
        range=[-0.605, 0.605],
        tickvals=[-0.5, 0.0, 0.5],
        tickformat=".1f",
        showticklabels=(col == 1),   # shared amplitude scale
        row=row, col=col,
    )

# matplotlib-ish boxed axes, ticks pointing out
fig.update_xaxes(showgrid=False, zeroline=False, showline=True, mirror=True,
                 linecolor="black", linewidth=1, ticks="outside", ticklen=4,
                 tickwidth=1, tickcolor="black")
fig.update_yaxes(showgrid=False, zeroline=False, showline=True, mirror=True,
                 linecolor="black", linewidth=1, ticks="outside", ticklen=4,
                 tickwidth=1, tickcolor="black")

# panel titles come from subplot_titles
fig.update_annotations(font=dict(family=AXIS_FONT, size=18, color="black"), yshift=1)

# shared axis labels
fig.add_annotation(text="Amplitude [F160W mag]", xref="paper", yref="paper",
                   x=-0.097, y=0.5, textangle=-90, showarrow=False,
                   xanchor="center", yanchor="middle",
                   font=dict(family=AXIS_FONT, size=15, color="black"))
fig.add_annotation(text="Phase", xref="paper", yref="paper",
                   x=0.484, y=-0.124, showarrow=False,
                   xanchor="center", yanchor="middle",
                   font=dict(family=AXIS_FONT, size=15, color="black"))

# the page body adds an 8px margin, so the figure is drawn 8px smaller
fig.update_layout(
    width=822,
    height=407,
    margin=dict(l=95, r=82, t=41, b=52),
    paper_bgcolor="white",
    plot_bgcolor="white",
    font=dict(family=AXIS_FONT, size=14.5, color="black"),
)

fig.write_html("out.html")
